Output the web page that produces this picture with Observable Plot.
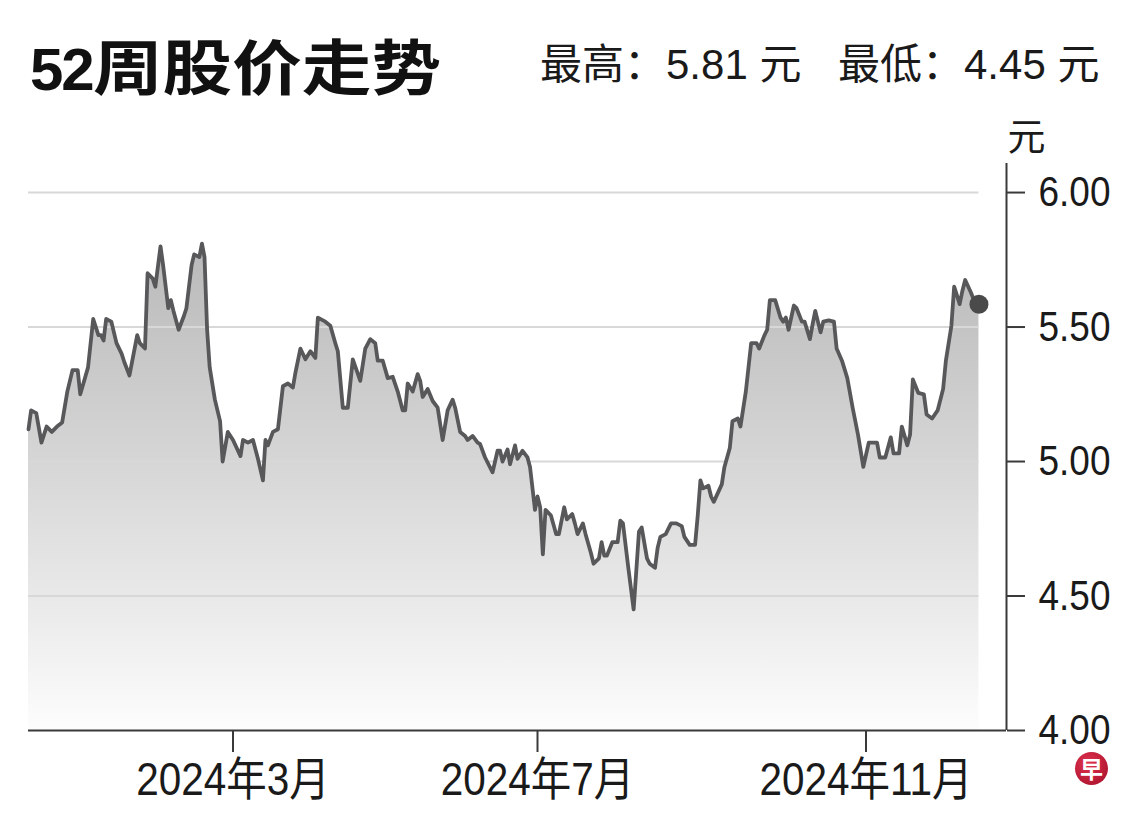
<!DOCTYPE html>
<html><head><meta charset="utf-8">
<script src="https://cdn.jsdelivr.net/npm/d3@7"></script>
<script src="https://cdn.jsdelivr.net/npm/@observablehq/plot@0.6"></script>
<style>
html,body{margin:0;padding:0;background:#fff;}
#wrap{position:relative;width:1140px;height:817px;overflow:hidden;background:#fff;}
#header{position:relative;height:110px;}
.title{position:absolute;left:30px;top:34px;font-size:60px;line-height:1;font-weight:700;white-space:nowrap;color:#111;}
.title .num{font-family:"Liberation Sans Narrow","Arial Narrow","Liberation Sans",sans-serif;letter-spacing:-2px;}
.title .cjk{font-family:"Noto Sans CJK SC",sans-serif;display:inline-block;transform:scaleX(1.16);transform-origin:0 50%;}
.stat{position:absolute;top:44px;font-size:42px;line-height:1;font-family:"Liberation Sans","Noto Sans CJK SC",sans-serif;color:#1a1a1a;white-space:nowrap;}
#chart{position:relative;height:707px;}
.logo{position:absolute;left:1075px;top:752px;width:33px;height:33px;border-radius:50%;background:radial-gradient(circle at 40% 35%,#e0334f,#a30d27);color:#fff;font:700 23px/33px "Noto Sans CJK SC",sans-serif;text-align:center;}
</style></head><body>
<div id="wrap">
  <div id="header">
    <div class="title"><span class="num">52</span><span class="cjk">周股价走势</span></div>
    <div class="stat" id="hi" style="left:540px"></div>
    <div class="stat" id="lo" style="left:838px"></div>
  </div>
  <div id="chart"></div>
  <div class="logo">早</div>
</div>
<script>
const dates = [
"2023-12-13","2023-12-14","2023-12-16","2023-12-18","2023-12-20","2023-12-22","2023-12-24","2023-12-26","2023-12-28","2023-12-30",
"2024-01-01","2024-01-02","2024-01-05","2024-01-07","2024-01-09","2024-01-10","2024-01-11","2024-01-12","2024-01-14","2024-01-16",
"2024-01-18","2024-01-19","2024-01-21","2024-01-24","2024-01-25","2024-01-27","2024-01-28","2024-01-30","2024-01-31","2024-02-02",
"2024-02-03","2024-02-05","2024-02-06","2024-02-07","2024-02-09","2024-02-11","2024-02-12","2024-02-14","2024-02-15","2024-02-17",
"2024-02-18","2024-02-19","2024-02-20","2024-02-21","2024-02-23","2024-02-24","2024-02-25","2024-02-26","2024-02-28","2024-03-01",
"2024-03-04","2024-03-05","2024-03-07","2024-03-09","2024-03-11","2024-03-13","2024-03-14","2024-03-15","2024-03-17","2024-03-19",
"2024-03-21","2024-03-23","2024-03-25","2024-03-26","2024-03-28","2024-03-30","2024-04-01","2024-04-03","2024-04-04","2024-04-07",
"2024-04-09","2024-04-11","2024-04-12","2024-04-14","2024-04-16","2024-04-18","2024-04-21","2024-04-23","2024-04-25","2024-04-27",
"2024-04-28","2024-04-30","2024-05-02","2024-05-04","2024-05-06","2024-05-08","2024-05-09","2024-05-10","2024-05-12","2024-05-14",
"2024-05-15","2024-05-16","2024-05-18","2024-05-20","2024-05-22","2024-05-24","2024-05-26","2024-05-28","2024-05-29","2024-05-31",
"2024-06-02","2024-06-03","2024-06-05","2024-06-07","2024-06-08","2024-06-10","2024-06-13","2024-06-15","2024-06-16","2024-06-17",
"2024-06-19","2024-06-20","2024-06-22","2024-06-23","2024-06-25","2024-06-27","2024-06-28","2024-06-30","2024-07-01","2024-07-02",
"2024-07-03","2024-07-04","2024-07-06","2024-07-08","2024-07-09","2024-07-11","2024-07-12","2024-07-14","2024-07-15","2024-07-16",
"2024-07-18","2024-07-19","2024-07-21","2024-07-22","2024-07-24","2024-07-25","2024-07-26","2024-07-27","2024-07-29","2024-07-31",
"2024-08-01","2024-08-02","2024-08-04","2024-08-06","2024-08-08","2024-08-09","2024-08-11","2024-08-12","2024-08-14","2024-08-15",
"2024-08-16","2024-08-18","2024-08-20","2024-08-22","2024-08-24","2024-08-25","2024-08-27","2024-08-29","2024-08-30","2024-08-31",
"2024-09-01","2024-09-03","2024-09-04","2024-09-05","2024-09-08","2024-09-09","2024-09-11","2024-09-12","2024-09-14","2024-09-15",
"2024-09-17","2024-09-19","2024-09-21","2024-09-22","2024-09-24","2024-09-25","2024-09-26","2024-09-28","2024-09-30","2024-10-01",
"2024-10-02","2024-10-03","2024-10-05","2024-10-06","2024-10-08","2024-10-09","2024-10-11","2024-10-12","2024-10-13","2024-10-15",
"2024-10-16","2024-10-18","2024-10-20","2024-10-21","2024-10-23","2024-10-25","2024-10-27","2024-10-29","2024-10-31","2024-11-02",
"2024-11-04","2024-11-05","2024-11-06","2024-11-08","2024-11-10","2024-11-11","2024-11-13","2024-11-14","2024-11-16","2024-11-17",
"2024-11-18","2024-11-20","2024-11-22","2024-11-23","2024-11-25","2024-11-27","2024-11-29","2024-11-30","2024-12-02","2024-12-03",
"2024-12-05","2024-12-06","2024-12-07","2024-12-09","2024-12-10","2024-12-12"
];
const prices = [
5.12,5.19,5.18,5.07,5.13,5.11,5.13,5.145,5.26,5.34,
5.34,5.25,5.35,5.53,5.47,5.47,5.45,5.53,5.52,5.44,
5.40,5.37,5.32,5.47,5.44,5.42,5.70,5.68,5.65,5.80,
5.73,5.57,5.60,5.56,5.49,5.54,5.57,5.73,5.77,5.76,
5.81,5.76,5.49,5.35,5.23,5.19,5.15,5.00,5.11,5.08,
5.02,5.08,5.07,5.08,5.01,4.93,5.08,5.06,5.11,5.12,
5.28,5.29,5.275,5.33,5.42,5.38,5.41,5.385,5.535,5.52,
5.505,5.44,5.41,5.20,5.20,5.38,5.30,5.42,5.455,5.44,
5.375,5.375,5.31,5.315,5.26,5.19,5.19,5.29,5.26,5.325,
5.30,5.24,5.27,5.225,5.20,5.08,5.19,5.23,5.20,5.11,
5.095,5.08,5.095,5.07,5.065,5.015,4.96,5.04,5.04,5.00,
5.045,4.99,5.06,5.01,5.04,5.015,4.98,4.82,4.87,4.83,
4.655,4.82,4.80,4.73,4.73,4.83,4.785,4.805,4.77,4.73,
4.77,4.73,4.66,4.62,4.64,4.70,4.65,4.65,4.70,4.70,
4.78,4.77,4.605,4.45,4.74,4.755,4.64,4.62,4.605,4.68,
4.72,4.73,4.77,4.77,4.76,4.72,4.69,4.69,4.80,4.93,
4.90,4.91,4.87,4.85,4.915,4.98,5.05,5.15,5.16,5.13,
5.26,5.44,5.44,5.42,5.47,5.49,5.60,5.60,5.535,5.52,
5.535,5.49,5.58,5.57,5.52,5.52,5.455,5.51,5.56,5.48,
5.52,5.525,5.52,5.42,5.375,5.31,5.20,5.10,4.98,5.07,
5.07,5.07,5.015,5.015,5.09,5.03,5.03,5.13,5.06,5.10,
5.305,5.255,5.25,5.175,5.16,5.19,5.27,5.375,5.505,5.65,
5.585,5.635,5.675,5.63,5.605,5.585
];
const xTickDates = ["2024-03-01","2024-07-01","2024-11-01"];
const yTicks = [4.0, 4.5, 5.0, 5.5, 6.0];
const gridValues = [4.5, 5.0, 5.5, 6.0];
const unitLabel = "元";

const parse = d3.utcParse("%Y-%m-%d");
const data = dates.map((d, i) => ({date: parse(d), price: prices[i]}));
const first = data[0], last = data[data.length - 1];

document.getElementById("hi").textContent = "最高：" + d3.max(prices).toFixed(2) + " 元";
document.getElementById("lo").textContent = "最低：" + d3.min(prices).toFixed(2) + " 元";

const FONT = '"Liberation Sans Narrow","Arial Narrow","Liberation Sans","Noto Sans CJK SC",sans-serif';
const xDomain = ["2023-12-13", "2024-03-01", "2024-07-01", "2024-11-01", "2024-12-22"].map(parse);

const chart = Plot.plot({
  width: 1140,
  height: 707,
  marginLeft: 28,
  marginRight: 134,
  marginTop: 53,
  marginBottom: 87,
  style: {fontFamily: FONT, color: "#1a1a1a", background: "transparent", overflow: "visible"},
  x: {type: "utc", domain: xDomain, range: [28, 232.5, 537, 865.5, 1006]},
  y: {domain: [4, 6.108]},
  marks: [
    Plot.areaY(data, {x: "date", y1: 4, y2: "price", fill: "url(#areaGrad)"}),
    Plot.ruleY(gridValues, {x1: first.date, x2: last.date, stroke: "#d8d8d8", strokeWidth: 2}),
    Plot.ruleY([4], {stroke: "#3a3a3a", strokeWidth: 2}),
    Plot.ruleX([xDomain[xDomain.length - 1]], {stroke: "#3a3a3a", strokeWidth: 2}),
    Plot.lineY(data, {x: "date", y: "price", stroke: "#58585a", strokeWidth: 3.8, strokeLinejoin: "round"}),
    Plot.dot([last], {x: "date", y: "price", r: 9.5, fill: "#4a4a4a"}),
    Plot.axisX({
      ticks: xTickDates.map(parse),
      tickFormat: d => `${d.getUTCFullYear()}年${d.getUTCMonth() + 1}月`,
      tickSize: 22, tickPadding: 10, fontSize: 46, stroke: "#3a3a3a", strokeWidth: 2, label: null
    }),
    Plot.axisY({
      anchor: "right", ticks: yTicks, tickFormat: d => d.toFixed(2),
      tickSize: 18, tickPadding: 14, fontSize: 43, stroke: "#3a3a3a", strokeWidth: 2, label: null
    }),
    Plot.text([unitLabel], {frameAnchor: "top-right", dx: 20, dy: -14, lineAnchor: "bottom", textAnchor: "middle", fontSize: 38, fontFamily: "Noto Sans CJK SC", fill: "#1a1a1a"})
  ]
});

const ns = "http://www.w3.org/2000/svg";
const defs = document.createElementNS(ns, "defs");
const grad = document.createElementNS(ns, "linearGradient");
grad.setAttribute("id", "areaGrad");
grad.setAttribute("x1", "0"); grad.setAttribute("y1", "0");
grad.setAttribute("x2", "0"); grad.setAttribute("y2", "1");
[["0", "#b9b9b9"], ["0.45", "#d6d6d6"], ["0.8", "#eeeeee"], ["1", "#fdfdfd"]].forEach(([o, c]) => {
  const s = document.createElementNS(ns, "stop");
  s.setAttribute("offset", o);
  s.setAttribute("stop-color", c);
  grad.appendChild(s);
});
defs.appendChild(grad);
chart.insertBefore(defs, chart.firstChild);
document.getElementById("chart").appendChild(chart);

// condensed look of the original tick labels
const condense = (sel, factor) => chart.querySelectorAll(sel).forEach(t => {
  const w = t.getComputedTextLength();
  if (w > 0) {
    t.setAttribute("textLength", (w * factor).toFixed(1));
    t.setAttribute("lengthAdjust", "spacingAndGlyphs");
  }
});
condense('g[aria-label="x-axis tick label"] text', 0.88);
condense('g[aria-label="y-axis tick label"] text', 0.86);
</script>
</body></html>
